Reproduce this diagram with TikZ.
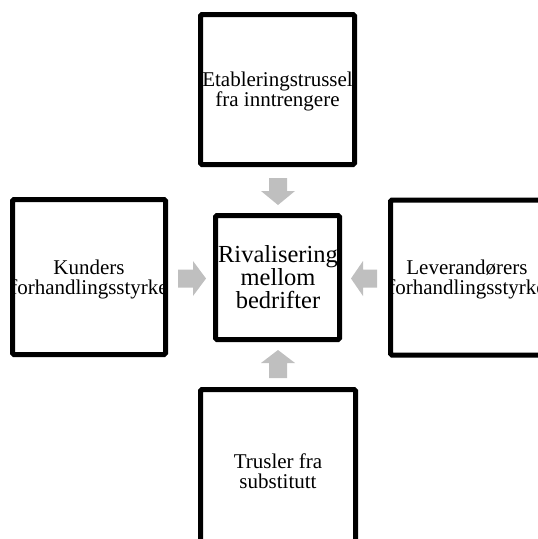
\documentclass[tikz,border=0pt]{standalone}
\usepackage{fontspec}
\setmainfont{Liberation Serif}
\definecolor{arrgray}{RGB}{191,191,191}
\tikzset{
  box/.style={draw=black, line width=5pt, fill=white, rounded corners=1.5pt, inner sep=0pt},
  sidetext/.style={font=\fontsize{21}{20}\selectfont, align=center, inner sep=0pt},
  centertext/.style={font=\fontsize{24.5}{23}\selectfont, align=center, inner sep=0pt},
  blockarrow/.style={fill=arrgray, draw=none}
}
\begin{document}
\begin{tikzpicture}[x=1pt, y=-1pt]
\useasboundingbox (0,0) rectangle (538,539);
\clip (0,0) rectangle (538,539);
% boxes
\node[box, minimum width=154pt, minimum height=150pt] (top) at (277.5,89.5) {};
\node[box, minimum width=153pt, minimum height=155pt] (left) at (89,277) {};
\node[box, minimum width=153pt, minimum height=155pt] (right) at (467,277.5) {};
\node[box, minimum width=155pt, minimum height=160pt] (bottom) at (278,469.5) {};
\node[box, minimum width=124pt, minimum height=124pt] (center) at (277.5,277.5) {};
% texts
\node[sidetext] (toptext) at (277.5,91) {Etableringstrussel\\fra inntrengere};
\node[sidetext] (lefttext) at (89,279) {Kunders\\forhandlingsstyrke};
\node[sidetext] (righttext) at (467,279) {Leverandørers\\forhandlingsstyrke};
\node[sidetext] (bottomtext) at (278,471) {Trusler fra\\substitutt};
\node[centertext] (centertxt) at (278,277) {Rivalisering\\mellom\\bedrifter};
% block arrows (top -> center)
\fill[blockarrow] (269,178) -- (287,178) -- (287,191) -- (295,191) -- (278,205) -- (261,191) -- (269,191) -- cycle;
% left -> center
\fill[blockarrow] (178,269.5) -- (193,269.5) -- (193,261) -- (206,278.5) -- (193,296) -- (193,287.5) -- (178,287.5) -- cycle;
% right -> center
\fill[blockarrow] (377,269.5) -- (363,269.5) -- (363,261) -- (351,278.5) -- (363,296) -- (363,287.5) -- (377,287.5) -- cycle;
% bottom -> center
\fill[blockarrow] (269,378) -- (287,378) -- (287,363) -- (295,363) -- (278,350) -- (261,363) -- (269,363) -- cycle;
\end{tikzpicture}
\end{document}
